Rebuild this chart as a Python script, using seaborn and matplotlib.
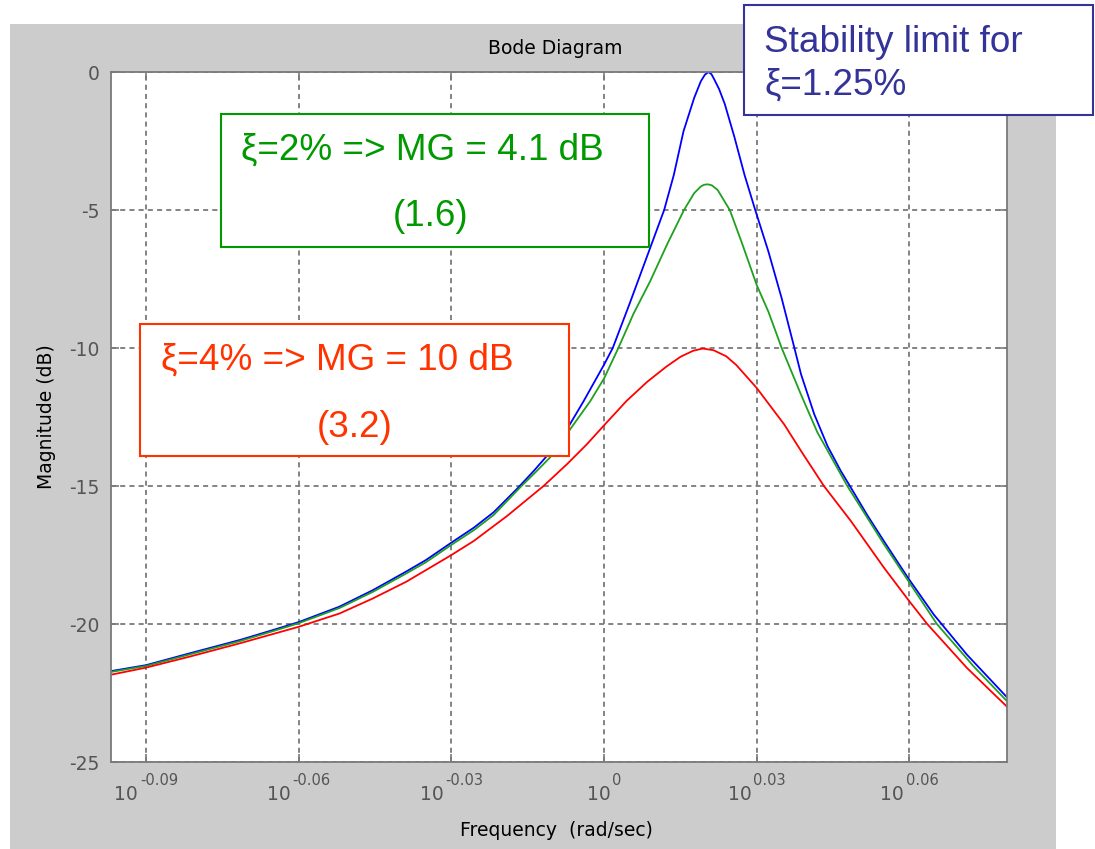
import numpy as np
import pandas as pd
import matplotlib
matplotlib.use("Agg")
import matplotlib.pyplot as plt
from matplotlib.patches import Rectangle
from matplotlib import transforms as mtransforms
import seaborn as sns

# ---- data: log10 of frequency (rad/s) and magnitude (dB) for each damping ratio ----
blue_logw = [-0.0967, -0.0900, -0.0814, -0.0716, -0.0651, -0.0600, -0.0520, -0.0454,
             -0.0389, -0.0350, -0.0300, -0.0256, -0.0217, -0.0171, -0.0138, -0.0112,
             -0.0070, -0.0041, 0.0000, 0.0017, 0.0050, 0.0080, 0.0118, 0.0137,
             0.0156, 0.0177, 0.0190, 0.0198, 0.0205, 0.0211, 0.0216, 0.0226,
             0.0237, 0.0256, 0.0276, 0.0297, 0.0323, 0.0349, 0.0374, 0.0387,
             0.0413, 0.0439, 0.0465, 0.0485, 0.0517, 0.0550, 0.0582, 0.0600,
             0.0648, 0.0713, 0.0792]
blue_db = [-21.70, -21.49, -21.06, -20.58, -20.22, -19.93, -19.37, -18.77,
           -18.10, -17.68, -17.05, -16.51, -15.95, -15.10, -14.45, -13.90,
           -12.85, -11.95, -10.60, -10.00, -8.40, -6.90, -5.00, -3.73,
           -2.15, -0.94, -0.34, -0.10, 0.00, -0.08, -0.25, -0.62,
           -1.15, -2.35, -3.73, -5.00, -6.51, -8.20, -10.00, -10.95,
           -12.40, -13.55, -14.45, -15.06, -16.05, -17.00, -17.90, -18.40,
           -19.66, -21.11, -22.66]

green_logw = [-0.0967, -0.0900, -0.0814, -0.0716, -0.0651, -0.0600, -0.0520, -0.0454,
              -0.0389, -0.0350, -0.0300, -0.0256, -0.0217, -0.0165, -0.0132, -0.0106,
              -0.0070, -0.0027, 0.0000, 0.0028, 0.0058, 0.0090, 0.0125, 0.0157,
              0.0177, 0.0190, 0.0196, 0.0202, 0.0207, 0.0212, 0.0223, 0.0247,
              0.0270, 0.0300, 0.0323, 0.0349, 0.0387, 0.0419, 0.0478, 0.0550,
              0.0600, 0.0654, 0.0726, 0.0792]
green_db = [-21.73, -21.52, -21.10, -20.62, -20.26, -19.97, -19.42, -18.83,
            -18.17, -17.76, -17.13, -16.60, -16.05, -15.05, -14.45, -13.96,
            -13.03, -11.92, -11.10, -10.00, -8.75, -7.60, -6.20, -5.00,
            -4.39, -4.15, -4.09, -4.07, -4.08, -4.11, -4.27, -5.00,
            -6.15, -7.72, -8.69, -10.00, -11.69, -13.05, -15.00, -17.11,
            -18.50, -20.00, -21.53, -22.80]

red_logw = [-0.0967, -0.0900, -0.0814, -0.0716, -0.0600, -0.0520, -0.0454, -0.0389,
            -0.0300, -0.0256, -0.0191, -0.0119, -0.0073, -0.0034, 0.0000, 0.0044,
            0.0085, 0.0122, 0.0150, 0.0175, 0.0194, 0.0215, 0.0240, 0.0260,
            0.0300, 0.0354, 0.0387, 0.0432, 0.0485, 0.0550, 0.0600, 0.0635,
            0.0713, 0.0792]
red_db = [-21.83, -21.58, -21.18, -20.70, -20.10, -19.62, -19.07, -18.47,
          -17.50, -16.99, -16.09, -15.00, -14.21, -13.49, -12.80, -11.92,
          -11.22, -10.68, -10.32, -10.10, -10.02, -10.08, -10.30, -10.62,
          -11.45, -12.77, -13.73, -15.00, -16.27, -17.96, -19.18, -20.00,
          -21.59, -23.00]

case_names = ["xi=1.25%", "xi=2%", "xi=4%"]
case_colors = ["#0000ff", "#1fa01f", "#ff0000"]

x_tick_exps = ["-0.09", "-0.06", "-0.03", "0", "0.03", "0.06"]
y_ticks = [0, -5, -10, -15, -20, -25]
y_tick_labels = ["0", "-5", "-10", "-15", "-20", "-25"]

# ---- long-form table for seaborn ----
frames = []
for name, lw, db in zip(case_names,
                        [blue_logw, green_logw, red_logw],
                        [blue_db, green_db, red_db]):
    frames.append(pd.DataFrame({"w": 10.0 ** np.asarray(lw), "mag": db, "case": name}))
df = pd.concat(frames, ignore_index=True)

# ---- figure ----
W, H = 1095, 849
fig = plt.figure(figsize=(W / 100, H / 100), dpi=100, facecolor="white")


def fx(px):
    return px / W


def fy(py):
    return 1 - py / H


# grey window background
fig.add_artist(Rectangle((fx(10), 0), fx(1056) - fx(10), fy(24), transform=fig.transFigure,
                         facecolor="#cccccc", edgecolor="none", zorder=0))

ax = fig.add_axes([fx(111), fy(762), fx(1007) - fx(111), fy(72) - fy(762)], zorder=1)
ax.set_facecolor("white")

sns.lineplot(data=df, x="w", y="mag", hue="case", hue_order=case_names,
             palette=dict(zip(case_names, case_colors)), sort=False, estimator=None,
             linewidth=1.3, legend=False, ax=ax)

ax.set_xscale("log")
ax.set_xlim(0.8, 1.2)
ax.set_ylim(-25, 0)
ax.minorticks_off()

x_tick_pos = [10.0 ** float(e) for e in x_tick_exps]
ax.set_xticks(x_tick_pos)
ax.set_xticklabels([])
ax.set_yticks(y_ticks)
ax.set_yticklabels(y_tick_labels)
ax.set_xlabel("")
ax.set_ylabel("")

gray = "#7a7a7a"
label_gray = "#555555"
ax.tick_params(axis="both", direction="in", length=6, width=1.2, color=gray,
               labelcolor=label_gray, top=True, right=True)
ax.tick_params(axis="y", labelsize=13.5, pad=8)
for sp in ax.spines.values():
    sp.set_color(gray)
    sp.set_linewidth(1.3)
ax.grid(True, color=gray, linestyle=(0, (2.8, 2.3)), linewidth=1.3)

# x tick labels as "10" with a raised exponent, centred under each tick
renderer = fig.canvas.get_renderer()
xbase = mtransforms.blended_transform_factory(ax.transData, ax.transAxes)
for xt, e in zip(x_tick_pos, x_tick_exps):
    t10 = ax.text(xt, 0, "10", transform=xbase, ha="left", va="baseline",
                  fontsize=13.5, color=label_gray, clip_on=False)
    tex = ax.text(xt, 0, e, transform=xbase, ha="left", va="baseline",
                  fontsize=10.5, color=label_gray, clip_on=False)
    w10 = t10.get_window_extent(renderer).width
    wex = tex.get_window_extent(renderer).width
    gap = 2
    left = -(w10 + gap + wex) / 2
    t10.set_transform(mtransforms.offset_copy(xbase, fig=fig, x=left, y=-38, units="dots"))
    tex.set_transform(mtransforms.offset_copy(xbase, fig=fig, x=left + w10 + gap, y=-23,
                                              units="dots"))

# labels
fig.text(fx(555), fy(48), "Bode Diagram", ha="center", va="center", fontsize=13.5, color="black")
fig.text(fx(46), fy(417), "Magnitude (dB)", ha="center", va="center", rotation=90,
         fontsize=13.5, color="black")
fig.text(fx(556), fy(830), "Frequency  (rad/sec)", ha="center", va="center",
         fontsize=13.5, color="black")

# annotation boxes
box_font = ["Liberation Sans", "DejaVu Sans"]
box_size = 26.6


def note_box(x0, y0, x1, y1, color):
    fig.add_artist(Rectangle((fx(x0), fy(y1)), fx(x1) - fx(x0), fy(y0) - fy(y1),
                             transform=fig.transFigure, facecolor="white",
                             edgecolor=color, linewidth=1.5, zorder=5))


green_c = "#009900"
red_c = "#ff3300"
navy_c = "#333399"

note_box(221, 114, 649, 247, green_c)
fig.text(fx(241), fy(160), "ξ=2% => MG = 4.1 dB", ha="left", va="baseline",
         fontsize=box_size, color=green_c, family=box_font, zorder=6)
fig.text(fx(431), fy(226), "(1.6)", ha="center", va="baseline",
         fontsize=box_size, color=green_c, family=box_font, zorder=6)

note_box(140, 324, 569, 456, red_c)
fig.text(fx(161), fy(370), "ξ=4% => MG = 10 dB", ha="left", va="baseline",
         fontsize=box_size, color=red_c, family=box_font, zorder=6)
fig.text(fx(355), fy(437), "(3.2)", ha="center", va="baseline",
         fontsize=box_size, color=red_c, family=box_font, zorder=6)

note_box(744, 5, 1093, 115, navy_c)
fig.text(fx(764), fy(52), "Stability limit for", ha="left", va="baseline",
         fontsize=box_size, color=navy_c, family=box_font, zorder=6)
fig.text(fx(764), fy(95), "ξ=1.25%", ha="left", va="baseline",
         fontsize=box_size, color=navy_c, family=box_font, zorder=6)

fig.savefig("out.png", dpi=100, facecolor="white")
